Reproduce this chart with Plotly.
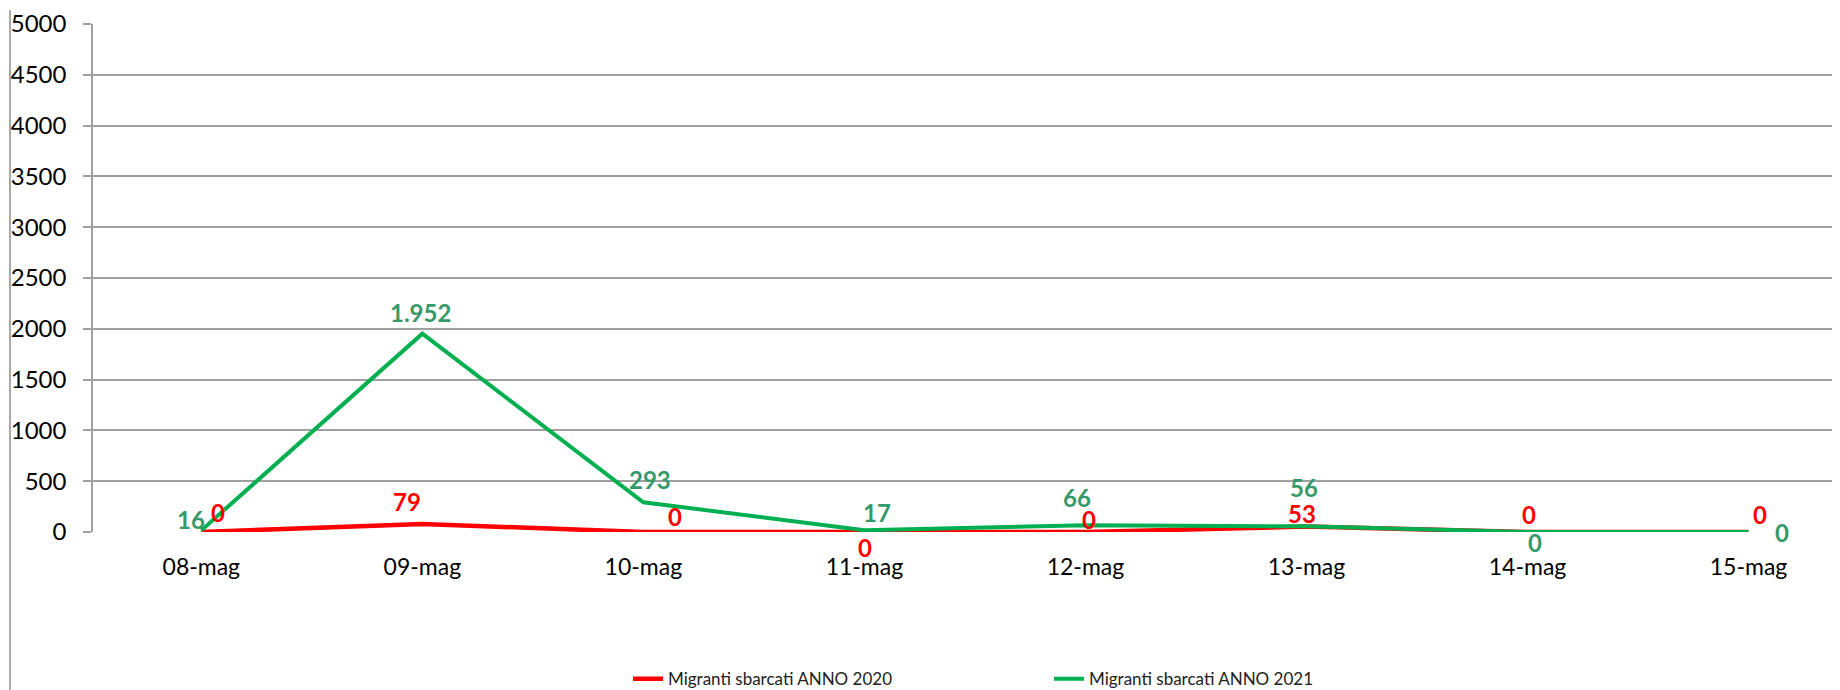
import plotly.graph_objects as go

categories = ["08-mag", "09-mag", "10-mag", "11-mag", "12-mag", "13-mag", "14-mag", "15-mag"]
anno_2020 = [0, 79, 0, 0, 0, 53, 0, 0]
anno_2021 = [16, 1952, 293, 17, 66, 56, 0, 0]
y_ticks = [0, 500, 1000, 1500, 2000, 2500, 3000, 3500, 4000, 4500, 5000]

# label offsets (px) relative to each point, per series
shift_2020 = [(17, 20), (-15, 22), (32, 16), (1, -15), (4, 13), (-4, 13), (1, 18), (11, 18)]
shift_2021 = [(-10, 11), (-2, 21), (7, 23), (13, 18), (-8, 28), (-2, 39), (7, -10), (33, 0)]

RED = "#FF0000"
GREEN = "#00B050"
GREEN_LABEL = "#36996A"
FONT = "Lato"

def fmt(v):
    return f"{v:,}".replace(",", ".")

x_idx = list(range(len(categories)))

L, T, B = 85, 14, 162
W, H = 1840, 690
PW, PH = W - L, H - T - B

fig = go.Figure()
fig.add_trace(go.Scatter(x=x_idx, y=anno_2020, mode="lines", name="Migranti sbarcati ANNO 2020",
                         line=dict(color=RED, width=4.5)))
fig.add_trace(go.Scatter(x=x_idx, y=anno_2021, mode="lines", name="Migranti sbarcati ANNO 2021",
                         line=dict(color=GREEN, width=4)))

annotations = []
for i, v in enumerate(anno_2020):
    annotations.append(dict(x=i, y=v, xref="x", yref="y", text=fmt(v), showarrow=False,
                            xshift=shift_2020[i][0], yshift=shift_2020[i][1],
                            font=dict(family=FONT, size=24, color=RED, weight="bold")))
for i, v in enumerate(anno_2021):
    annotations.append(dict(x=i, y=v, xref="x", yref="y", text=fmt(v), showarrow=False,
                            xshift=shift_2021[i][0], yshift=shift_2021[i][1],
                            font=dict(family=FONT, size=24, color=GREEN_LABEL, weight="bold")))

fig.update_layout(
    width=W, height=H,
    margin=dict(l=L, r=0, t=T, b=B),
    paper_bgcolor="white", plot_bgcolor="white",
    font=dict(family=FONT, color="black"),
    showlegend=True,
    legend=dict(orientation="h", x=(620 - L) / PW, y=(-(677 - (T + PH))) / PH,
                xanchor="left", yanchor="middle",
                font=dict(family=FONT, size=17, color="#222"), entrywidth=376,
                bgcolor="rgba(0,0,0,0)"),
    annotations=annotations,
    shapes=[dict(type="line", xref="paper", yref="paper",
                 x0=(2 - L) / PW, x1=(2 - L) / PW, y0=-B / PH, y1=(T + PH) / PH,
                 line=dict(color="#8C8C8C", width=1.5))],
)
fig.update_xaxes(
    range=[-0.49, 7.45], tickmode="array", tickvals=x_idx, ticktext=categories,
    showgrid=False, zeroline=False, showline=False,
    ticks="outside", ticklen=14, tickcolor="rgba(0,0,0,0)",
    tickfont=dict(family=FONT, size=23, color="black"),
)
fig.update_yaxes(
    range=[0, 5000], tickmode="array", tickvals=y_ticks,
    showgrid=True, gridcolor="#A0A0A0", gridwidth=1.5,
    zeroline=False, showline=True, linecolor="#A0A0A0", linewidth=1.5,
    ticks="outside", ticklen=8, tickcolor="#A0A0A0", tickwidth=1.5,
    ticklabelstandoff=12, ticklabeloverflow="allow",
    tickfont=dict(family=FONT, size=24, color="black"),
)

fig.write_html("out.html")
